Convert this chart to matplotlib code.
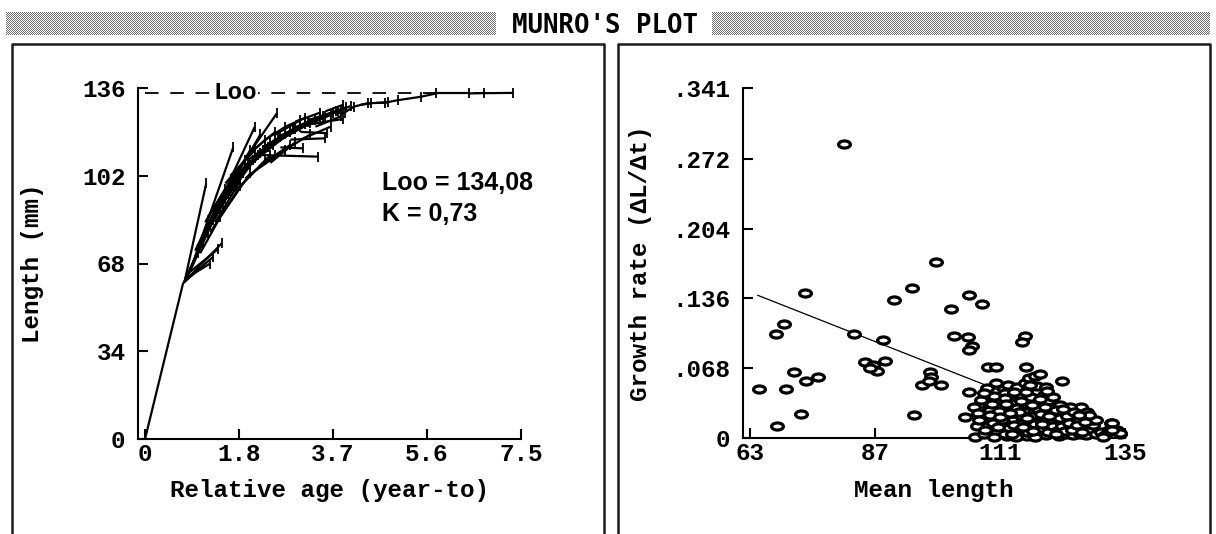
import numpy as np
import matplotlib
matplotlib.use('Agg')
import matplotlib.pyplot as plt
from matplotlib.path import Path
from matplotlib.lines import Line2D

# ---------------- data ----------------
title = "MUNRO'S PLOT"
Loo = 134.08
K = 0.73
param_text = ["Loo = 134,08", "K = 0,73"]

left_xticks = [0, 1.875, 3.75, 5.625, 7.5]
left_xticklabels = ['0', '1.8', '3.7', '5.6', '7.5']
left_yticks = [0, 34, 68, 102, 136]
left_yticklabels = ['0', '34', '68', '102', '136']
left_xlabel = "Relative age (year-to)"
left_ylabel = "Length (mm)"

# growth increments: (start age, start length, end age, end length)
segments = [
    (0.00, 0.0, 0.76, 60.4),
    # steep fan
    (0.80, 62.0, 1.22, 99.0),
    (0.95, 68.0, 1.76, 113.0),
    (1.30, 84.0, 2.19, 121.0),
    (1.70, 100.0, 2.63, 126.2),
    (1.45, 90.0, 2.10, 112.0),
    (1.55, 93.0, 2.30, 118.0),
    # lower fan
    (0.76, 60.4, 1.53, 75.8),
    (0.76, 60.4, 1.36, 70.6),
    (0.80, 62.0, 1.30, 68.0),
    (0.85, 64.0, 1.45, 73.5),
    # dense band
    (0.78, 61.0, 1.05, 72.0), (0.80, 62.0, 1.15, 76.0), (0.85, 63.0, 1.25, 80.0),
    (0.90, 66.0, 1.30, 83.0), (0.95, 68.0, 1.42, 88.0), (1.00, 70.0, 1.35, 85.0),
    (1.05, 73.0, 1.50, 90.0), (1.10, 75.0, 1.60, 93.0), (1.15, 77.0, 1.55, 91.0),
    (1.20, 80.0, 1.70, 96.0), (1.25, 81.0, 1.75, 98.0), (1.30, 83.0, 1.85, 101.0),
    (1.35, 85.0, 1.80, 99.0), (1.40, 87.0, 1.95, 103.0), (1.45, 89.0, 2.00, 105.0),
    (1.50, 90.0, 2.10, 106.0), (1.55, 92.0, 2.15, 108.0), (1.60, 94.0, 2.20, 109.0),
    (1.65, 96.0, 2.30, 111.0), (1.70, 97.0, 2.25, 110.0), (1.75, 99.0, 2.40, 113.0),
    (1.80, 100.0, 2.50, 115.0), (1.85, 101.0, 2.45, 113.0), (1.90, 103.0, 2.60, 116.0),
    (1.95, 104.0, 2.55, 114.0), (2.00, 105.0, 2.70, 117.0), (2.10, 107.0, 2.80, 118.0),
    (2.20, 108.0, 2.90, 119.0), (2.30, 110.0, 3.00, 120.0), (2.40, 112.0, 3.10, 121.0),
    (2.50, 114.0, 3.20, 122.0), (2.60, 115.0, 3.30, 122.5), (2.70, 116.0, 3.40, 123.5),
    (2.80, 118.0, 3.50, 124.0), (2.90, 119.0, 3.60, 125.0), (3.00, 120.0, 3.70, 125.5),
    (3.10, 121.0, 3.75, 126.5), (3.20, 122.0, 3.85, 127.0), (3.30, 123.0, 3.90, 127.5),
    (3.40, 124.0, 3.95, 128.0), (3.50, 124.5, 4.00, 128.5), (3.60, 125.0, 4.10, 129.0),
    (1.30, 80.0, 1.90, 98.0), (1.50, 86.0, 2.10, 103.0), (1.80, 96.0, 2.40, 108.0),
    (2.00, 101.0, 2.60, 110.0), (2.20, 104.0, 2.80, 112.0), (2.50, 107.0, 3.00, 115.0),
    (1.20, 84.0, 1.60, 97.0), (1.60, 99.0, 2.00, 108.0), (2.00, 109.0, 2.40, 116.0),
    (2.40, 116.0, 2.80, 121.0), (2.80, 121.0, 3.20, 124.5),
    (1.00, 73.0, 1.40, 89.0), (1.10, 72.0, 1.50, 86.0), (1.25, 86.0, 1.75, 101.0),
    (1.40, 84.0, 1.90, 100.0), (1.70, 102.0, 2.20, 112.0), (1.90, 98.0, 2.50, 110.0),
    (2.10, 111.0, 2.60, 119.0), (2.30, 106.0, 2.90, 114.0), (2.60, 118.0, 3.10, 123.5),
    (2.70, 111.0, 3.30, 118.0), (3.00, 123.0, 3.50, 126.5), (3.10, 116.0, 3.70, 121.0),
    (3.40, 121.0, 3.90, 125.0), (3.60, 127.0, 3.95, 129.5),
    (1.15, 79.0, 1.65, 95.0), (1.35, 88.0, 1.85, 103.0), (1.55, 95.0, 2.05, 107.0),
    (1.75, 101.0, 2.35, 112.0), (2.05, 108.0, 2.65, 116.5), (2.35, 113.0, 2.95, 120.0),
    (2.65, 117.0, 3.25, 123.0), (2.95, 120.5, 3.55, 125.0), (3.25, 123.5, 3.80, 127.0),
    # nearly flat increments
    (2.35, 110.0, 3.46, 109.4), (2.70, 113.0, 3.16, 112.6), (2.90, 116.0, 3.59, 116.5),
    (3.10, 119.0, 3.63, 118.5), (3.30, 122.0, 3.95, 124.0),
    # upper chain
    (3.83, 126.2, 3.98, 126.5), (3.98, 126.5, 4.17, 128.8), (4.17, 128.8, 4.44, 130.1),
    (4.44, 130.1, 4.78, 130.3), (4.78, 130.3, 5.05, 131.3), (5.05, 131.3, 5.50, 132.6),
    (5.50, 132.6, 5.81, 133.9), (5.81, 133.9, 6.46, 133.9), (6.46, 133.9, 6.76, 134.0),
    (6.76, 134.0, 7.34, 134.1), (4.30, 129.5, 4.50, 130.0), (4.60, 130.2, 4.85, 130.5),
]

right_xticks = [63, 87, 111, 135]
right_xticklabels = ['63', '87', '111', '135']
right_yticks = [0, 0.068, 0.136, 0.204, 0.272, 0.341]
right_yticklabels = ['0', '.068', '.136', '.204', '.272', '.341']
right_xlabel = "Mean length"
right_ylabel = "Growth rate (\u0394L/\u0394t)"

mean_length = [
    81.0, 98.7, 73.6, 94.2, 90.7, 105.0, 107.6, 101.5, 69.5, 67.9, 82.9, 88.5,
    102.2, 104.8, 105.7, 105.0, 115.8, 115.3, 64.7, 69.9, 71.5, 73.8, 76.0, 68.2,
    72.7, 85.1, 86.6, 87.3, 89.0, 86.0, 94.5, 96.1, 97.6, 97.8, 97.3, 99.7,
    108.7, 110.3, 116.0, 105.1, 104.2, 123.0, 106.2,
    108.5, 110.3, 111.8, 112.5, 114.2, 115.8, 116.5, 117.8, 118.6, 117.6, 119.2,
    114.8, 113.2, 110.0, 108.8, 107.4, 106.0, 106.8, 110.2, 110.2, 111.8, 114.8,
    116.6, 118.2, 120.0, 121.0,
    107.9, 108.6, 109.3, 109.0, 110.4, 110.9, 111.5, 111.2, 112.3, 112.7, 113.4,
    113.1, 113.9, 114.5, 114.8, 115.3, 115.7, 116.1, 116.6, 117.2, 117.5, 118.0,
    118.4, 118.9, 119.4, 119.8, 120.5, 120.9, 121.4, 121.9, 122.3, 122.8, 123.2,
    123.6, 124.1, 124.6, 125.0, 125.5, 126.0, 126.4, 127.0, 127.6, 128.3, 128.9,
    129.5, 130.4, 131.2, 132.0, 109.8, 111.9, 114.0, 115.9, 117.8, 119.9, 124.4,
    126.6, 124.4, 127.7, 128.6, 123.5, 132.4, 133.4, 134.0, 130.8, 129.4, 128.1,
    132.6, 134.1, 132.6, 121.4, 122.5, 120.3, 117.0, 119.5, 121.2, 118.2, 119.8,
    116.0, 112.0, 109.8, 108.0, 106.5, 107.0,
    108.2, 109.6, 110.8, 111.6, 112.9, 113.7, 114.2, 115.0, 115.5, 116.3, 116.9,
    117.7, 118.3, 118.7, 119.1, 119.6, 120.2, 120.7, 121.1, 121.7, 122.0, 122.6,
    123.0, 123.4, 123.9, 124.3, 124.9, 125.3, 125.8, 126.2, 126.8, 127.3, 112.0,
    113.6, 115.1, 116.8, 118.6, 120.0, 109.5, 111.3,
    109.1, 110.6, 112.1, 113.3, 114.6, 116.2, 117.4, 118.8, 120.4, 121.8, 123.1,
    111.0, 113.0, 115.4, 117.1, 119.0,
]
growth_rate = [
    0.286, 0.171, 0.141, 0.146, 0.134, 0.139, 0.131, 0.126, 0.111, 0.101, 0.101, 0.095,
    0.099, 0.098, 0.090, 0.086, 0.099, 0.094, 0.048, 0.048, 0.064, 0.056, 0.059, 0.012,
    0.023, 0.074, 0.071, 0.065, 0.075, 0.068, 0.022, 0.052, 0.064, 0.059, 0.056, 0.052,
    0.069, 0.069, 0.069, 0.0445, 0.020, 0.0556, 0.0013,
    0.049, 0.0535, 0.048, 0.052, 0.050, 0.054, 0.058, 0.060, 0.062, 0.047, 0.037,
    0.041, 0.037, 0.037, 0.0305, 0.037, 0.0305, 0.024, 0.0305, 0.024, 0.040, 0.027,
    0.033, 0.045, 0.028, 0.022,
    0.004, 0.012, 0.019, 0.027, 0.006, 0.015, 0.022, 0.031, 0.002, 0.010, 0.018,
    0.028, 0.034, 0.006, 0.014, 0.021, 0.030, 0.002, 0.010, 0.017, 0.025, 0.033,
    0.005, 0.013, 0.020, 0.003, 0.010, 0.016, 0.006, 0.013, 0.002, 0.009, 0.017,
    0.004, 0.012, 0.020, 0.003, 0.010, 0.017, 0.004, 0.011, 0.003, 0.008, 0.013,
    0.004, 0.006, 0.003, 0.008, 0.001, 0.004, 0.001, 0.006, 0.001, 0.008, 0.027,
    0.0305, 0.030, 0.025, 0.018, 0.024, 0.015, 0.0078, 0.004, 0.001, 0.0175, 0.0224,
    0.0143, 0.0046, 0.008, 0.0245, 0.032, 0.036, 0.040, 0.042, 0.040, 0.051, 0.050,
    0.045, 0.044, 0.041, 0.044, 0.012, 0.018,
    0.008, 0.015, 0.026, 0.017, 0.024, 0.013, 0.029, 0.009, 0.026, 0.006, 0.021,
    0.014, 0.028, 0.009, 0.017, 0.030, 0.006, 0.021, 0.012, 0.027, 0.007, 0.019,
    0.012, 0.007, 0.021, 0.015, 0.008, 0.025, 0.013, 0.022, 0.006, 0.016, 0.039,
    0.045, 0.036, 0.052, 0.038, 0.046, 0.033, 0.018,
    0.022, 0.011, 0.033, 0.004, 0.025, 0.019, 0.007, 0.023, 0.021, 0.004, 0.028,
    0.020, 0.024, 0.011, 0.032, 0.014,
]
fit_x = [64.5, 133.5]
fit_y = [0.139, 0.001]

# ---------------- figure ----------------
W, H, DPI = 1216, 534, 100
fig = plt.figure(figsize=(W / DPI, H / DPI), dpi=DPI)

mono = ['Liberation Mono', 'DejaVu Sans Mono']
fs = 17.5

def fx(px):
    return px / W

def fy(py):
    return 1 - py / H

# dithered title bars
def dither(w, h):
    i, j = np.indices((h, w))
    img = np.ones((h, w, 3))
    mask = ((i + j) % 2 == 0)
    img[mask] = 0.45
    return img

fig.figimage(dither(490, 23), xo=6, yo=H - 35, origin='upper')
fig.figimage(dither(498, 23), xo=712, yo=H - 35, origin='upper')
fig.text(fx(605), fy(33), title, family=['DejaVu Sans Mono'], weight='bold',
         size=18.5, ha='center', va='baseline')

# panel frames (open at the bottom)
for x0, x1 in [(12, 604), (618, 1210)]:
    fig.add_artist(Line2D([fx(x0), fx(x0), fx(x1), fx(x1)],
                          [-0.01, fy(44), fy(44), -0.01],
                          transform=fig.transFigure, color='#1a1a1a', lw=1.8))

def style_axes(ax):
    for s in ['top', 'right']:
        ax.spines[s].set_visible(False)
    for s in ['left', 'bottom']:
        ax.spines[s].set_linewidth(1.5)
    ax.tick_params(direction='in', length=7, width=1.5, labelsize=fs)
    ax.tick_params(axis='x', pad=3)
    ax.tick_params(axis='y', pad=9)
    for lab in ax.get_xticklabels() + ax.get_yticklabels():
        lab.set_family(mono)
        lab.set_weight('bold')

# ---------- left panel ----------
axL = fig.add_axes([fx(138), fy(439), fx(521) - fx(138), fy(88) - fy(439)])
axL.set_xlim(-0.14, 7.5)
axL.set_ylim(0, 136)
axL.set_xticks(left_xticks)
axL.set_xticklabels(left_xticklabels)
axL.set_yticks(left_yticks)
axL.set_yticklabels(left_yticklabels)
style_axes(axL)

for t0, L0, t1, L1 in segments:
    axL.plot([t0, t1], [L0, L1], color='black', lw=1.6, solid_capstyle='butt')
axL.plot([s[2] for s in segments[1:]], [s[3] for s in segments[1:]],
         linestyle='none', marker='|', ms=7, mew=1.3, color='black')

axL.plot([0, 7.45], [Loo, Loo], color='black', lw=1.3,
         linestyle=(0, (7.5, 6.5)))
axL.text(1.8, Loo, "Loo", family=mono, weight='bold', size=fs,
         ha='center', va='center',
         bbox=dict(facecolor='white', edgecolor='none', pad=1))

axL.set_xlabel(left_xlabel, family=mono, weight='bold', size=fs, va='center')
axL.xaxis.set_label_coords(0.5, (439 - 490) / 351)
axL.set_ylabel(left_ylabel, family=mono, weight='bold', size=fs, va='center')
axL.yaxis.set_label_coords((33 - 138) / 383, 0.5)

fig.text(fx(382), fy(190), param_text[0], family=['Liberation Sans', 'Arial'],
         weight='bold', size=18, ha='left', va='baseline')
fig.text(fx(382), fy(221), param_text[1], family=['Liberation Sans', 'Arial'],
         weight='bold', size=18, ha='left', va='baseline')

# ---------- right panel ----------
axR = fig.add_axes([fx(743), fy(438), fx(1125) - fx(743), fy(88) - fy(438)])
axR.set_xlim(61.66, 135)
axR.set_ylim(0, 0.341)
axR.set_xticks(right_xticks)
axR.set_xticklabels(right_xticklabels)
axR.set_yticks(right_yticks)
axR.set_yticklabels(right_yticklabels)
style_axes(axR)

circ = Path.unit_circle()
ell = Path(circ.vertices * np.array([1.0, 0.6]), circ.codes)
axR.plot(fit_x, fit_y, color='black', lw=0.9, zorder=2)
axR.plot(mean_length, growth_rate, linestyle='none', marker=ell, ms=8.5,
         mfc='white', mec='black', mew=2.3, zorder=3, clip_on=False)

axR.set_xlabel(right_xlabel, family=mono, weight='bold', size=fs, va='center')
axR.xaxis.set_label_coords(0.5, (438 - 490) / 350)
axR.set_ylabel(right_ylabel, family=mono, weight='bold', size=fs, va='center')
axR.yaxis.set_label_coords((641 - 743) / 382, 0.5)

fig.savefig('out.png', dpi=DPI)
